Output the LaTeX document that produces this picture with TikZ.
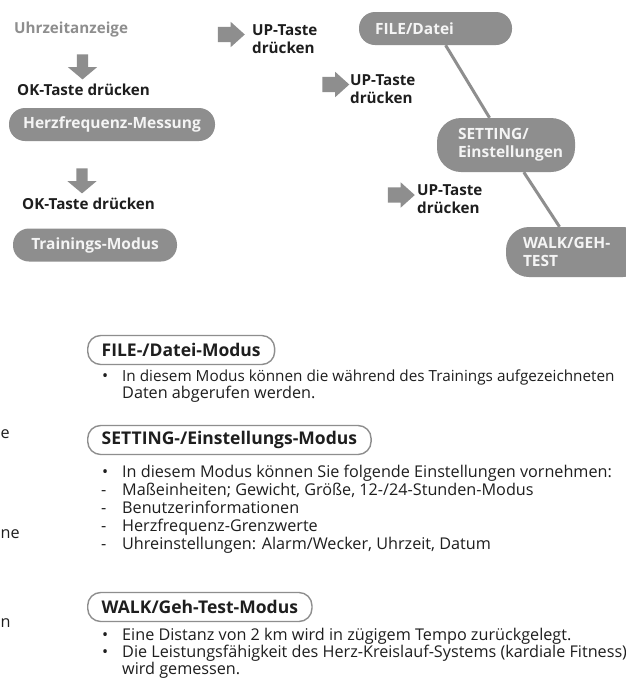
\documentclass[tikz,border=0pt]{standalone}
\usepackage{fontspec}
\setmainfont{Open Sans}
\usepackage{tikz}
\usetikzlibrary{positioning,shapes.arrows}
\definecolor{modegray}{HTML}{8E8E8E}
\definecolor{inktext}{HTML}{1E1E1E}
\definecolor{pilltext}{HTML}{F4F4F4}

\begin{document}
\begin{tikzpicture}[x=1pt,y=-1pt]
\tikzstyle{pill}=[fill=modegray,text=pilltext,font=\fontsize{15.5}{18}\selectfont\bfseries,rounded corners=16pt,inner ysep=0pt,minimum height=33pt]
\tikzstyle{presslabel}=[text=inktext,font=\fontsize{15.2}{18}\selectfont\bfseries,anchor=base west,inner sep=0pt,align=left]
\tikzstyle{downarrow}=[single arrow,fill=modegray,inner xsep=0pt,inner ysep=5.5pt,minimum height=25pt,single arrow head extend=9pt,single arrow tip angle=100,rotate=-90]
\tikzstyle{rightarrow}=[single arrow,fill=modegray,inner xsep=0pt,inner ysep=7.5pt,minimum height=27pt,single arrow head extend=5pt,single arrow tip angle=84]
\tikzstyle{modebox}=[draw=modegray,line width=1.4pt,rounded corners=13pt,text=inktext,font=\fontsize{17.5}{18}\selectfont\bfseries,inner xsep=14pt,minimum height=29pt,anchor=west]
\tikzstyle{bodytext}=[text=inktext,font=\fontsize{16.2}{18}\selectfont,anchor=base west,inner sep=0pt]
\useasboundingbox (0,0) rectangle (626,681);
\clip (0,0) rectangle (626,681);
\fill[white] (0,0) rectangle (626,681);

    % left column
    \node[anchor=base west,inner sep=0pt,text=modegray,font=\fontsize{15.2}{18}\selectfont\bfseries] (clock) at (14,33) {Uhrzeitanzeige};
    \node[downarrow] (d1) at (82.5,64.5) {};
    \node[presslabel] (ok1) at (17,95) {OK-Taste drücken};
    \node[pill,minimum width=206pt] (hr) at (112,124.5) {Herzfrequenz-Messung};
    \node[downarrow] (d2) at (82,178.5) {};
    \node[presslabel] (ok2) at (22,209) {OK-Taste drücken};
    \node[pill,minimum width=164pt] (train) at (95,245) {Trainings-Modus};

    % right column
    \node[rightarrow] (r1) at (227,34.5) {};
    \node[presslabel] (up1) at (252,53) {UP-Taste\\drücken};
    \node[rightarrow] (r2) at (331.5,84.5) {};
    \node[presslabel] (up2) at (350,103) {UP-Taste\\drücken};
    \node[rightarrow] (r3) at (397,195) {};
    \node[presslabel] (up3) at (417,213) {UP-Taste\\drücken};
    \node[pill,inner xsep=16pt,text width=121pt,align=left] (file) at (435.5,28.5) {FILE/Datei};
    \node[pill,inner xsep=21pt,text width=96pt,align=left,minimum height=54pt,rounded corners=24pt] (setting) at (506,145) {SETTING/\\Einstellungen};
    \node[pill,inner xsep=17pt,text width=106pt,align=left,minimum height=50pt,rounded corners=23pt] (walk) at (576,252) {WALK/GEH-\\TEST};
    \draw[modegray,line width=3pt] (file) -- (setting);
    \draw[modegray,line width=3pt] (setting) -- (walk);

    % cut-off words at the left edge
    \node[bodytext] (frag1) at (0.5,438) {e};
    \node[bodytext] (frag2) at (0.5,538) {ne};
    \node[bodytext] (frag3) at (0.5,627) {n};

    % FILE mode
    \node[modebox] (fileHead) at (87,350) {FILE-/Datei-Modus};
    \node[bodytext] (fileB1) at (102,381) {•};
    \node[bodytext,font=\fontsize{15.3}{18}\selectfont] (fileL1) at (122,381) {In diesem Modus können die während des Trainings aufgezeichneten};
    \node[bodytext] (fileL2) at (122,398.5) {Daten abgerufen werden.};

    % SETTING mode
    \node[modebox] (setHead) at (87,440) {SETTING-/Einstellungs-Modus};
    \node[bodytext] (setB1) at (102,477) {•};
    \node[bodytext] (setL1) at (122,477) {In diesem Modus können Sie folgende Einstellungen vornehmen:};
    \node[bodytext] (setD2) at (101,495) {-};
    \node[bodytext] (setL2) at (122,495) {Maßeinheiten; Gewicht, Größe, 12-/24-Stunden-Modus};
    \node[bodytext] (setD3) at (101,513) {-};
    \node[bodytext] (setL3) at (122,513) {Benutzerinformationen};
    \node[bodytext] (setD4) at (101,531) {-};
    \node[bodytext] (setL4) at (122,531) {Herzfrequenz-Grenzwerte};
    \node[bodytext] (setD5) at (101,549) {-};
    \node[bodytext] (setL5) at (122,549) {Uhreinstellungen: Alarm/Wecker, Uhrzeit, Datum};

    % WALK mode
    \node[modebox] (walkHead) at (87,607) {WALK/Geh-Test-Modus};
    \node[bodytext] (walkB1) at (102,640) {•};
    \node[bodytext] (walkL1) at (122,640) {Eine Distanz von 2 km wird in zügigem Tempo zurückgelegt.};
    \node[bodytext] (walkB2) at (102,657) {•};
    \node[bodytext] (walkL2) at (122,657) {Die Leistungsfähigkeit des Herz-Kreislauf-Systems (kardiale Fitness)};
    \node[bodytext] (walkL3) at (122,674) {wird gemessen.};
\end{tikzpicture}
\end{document}
